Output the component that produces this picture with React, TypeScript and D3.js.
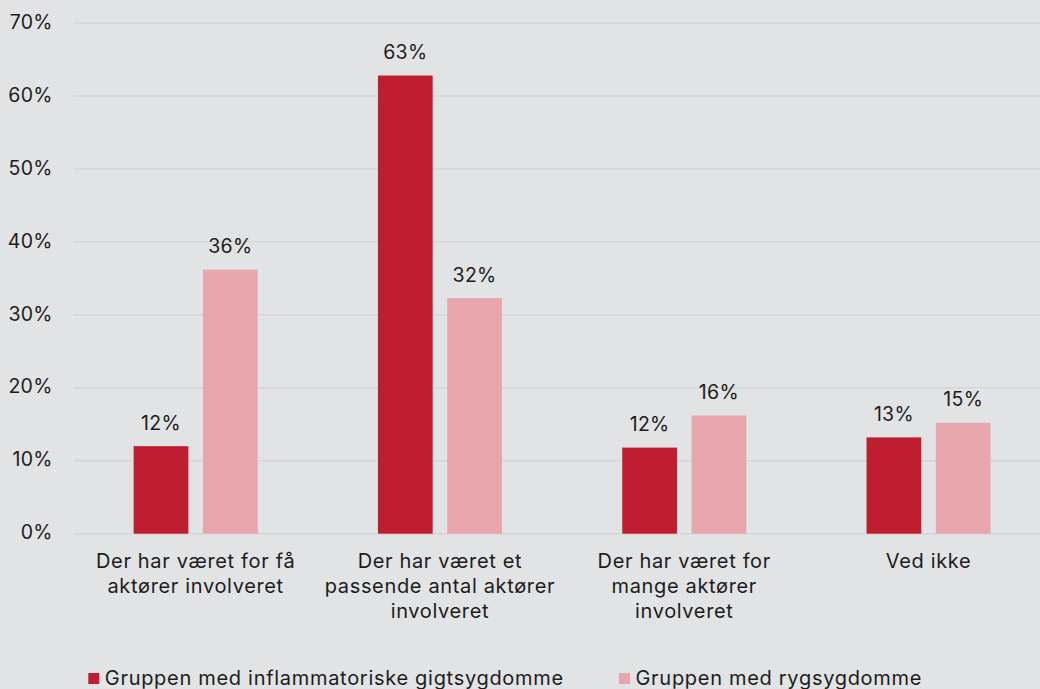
import React from "react";
import * as d3 from "d3";

const categories: string[][] = [
  ["Der har været for få", "aktører involveret"],
  ["Der har været et", "passende antal aktører", "involveret"],
  ["Der har været for", "mange aktører", "involveret"],
  ["Ved ikke"],
];
const seriesNames = ["Gruppen med inflammatoriske gigtsygdomme", "Gruppen med rygsygdomme"];
const seriesA = [12.0, 62.8, 11.8, 13.2];
const seriesB = [36.2, 32.3, 16.2, 15.2];
const labelsA = ["12%", "63%", "12%", "13%"];
const labelsB = ["36%", "32%", "16%", "15%"];
const yTicks = [0, 10, 20, 30, 40, 50, 60, 70];
const colors = ["#be1e30", "#e7a6ab"];

const W = 1040;
const H = 689;
const FONT = "Inter, 'Noto Sans', sans-serif";
const TXT = "#1c1c1c";

export default function App() {
  const y = d3.scaleLinear().domain([0, 70]).range([533.7, 23]);
  const idx = categories.map((_, i) => String(i));
  const x0 = d3
    .scaleBand<string>()
    .domain(idx)
    .range([73.5, 73.5 + 4 * 244.3])
    .paddingInner(0.4924)
    .paddingOuter(0.2462);
  const x1 = d3.scaleBand<string>().domain(["a", "b"]).range([0, x0.bandwidth()]).paddingInner(0.21).paddingOuter(0);
  const series = [
    { key: "a", values: seriesA, labels: labelsA, color: colors[0] },
    { key: "b", values: seriesB, labels: labelsB, color: colors[1] },
  ];
  return (
    <svg
      width={W}
      height={H}
      style={{ position: "absolute", left: 0, top: 0, background: "#e2e3e5" }}
      fontFamily={FONT}
    >
      <rect x={0} y={0} width={W} height={H} fill="#e2e3e5" />
      {yTicks.map((t) => (
        <g key={t}>
          <line x1={73.5} x2={W} y1={y(t)} y2={y(t)} stroke="#d5d6d8" strokeWidth={1.5} />
          <text x={52.5} y={y(t) + 5.7} textAnchor="end" fontSize={19.5} fill={TXT} letterSpacing={0.2}>
            {t}%
          </text>
        </g>
      ))}
      {series.map((s) =>
        s.values.map((v, i) => {
          const bx = (x0(String(i)) as number) + (x1(s.key) as number);
          return (
            <g key={s.key + i}>
              <rect x={bx} y={y(v)} width={x1.bandwidth()} height={y(0) - y(v)} fill={s.color} />
              <text
                x={bx + x1.bandwidth() / 2}
                y={y(v) - 16.4}
                textAnchor="middle"
                fontSize={19.5}
                fill={TXT}
                letterSpacing={0.3}
              >
                {s.labels[i]}
              </text>
            </g>
          );
        })
      )}
      {categories.map((lines, i) => {
        const cx = (x0(String(i)) as number) + x0.bandwidth() / 2;
        return (
          <text key={i} textAnchor="middle" fontSize={20} fill={TXT} letterSpacing={0.65}>
            {lines.map((l, j) => (
              <tspan key={j} x={cx} y={568 + j * 25}>
                {l}
              </tspan>
            ))}
          </text>
        );
      })}
      {seriesNames.map((n, i) => {
        const lx = [88.3, 619][i];
        return (
          <g key={n}>
            <rect x={lx} y={673} width={11} height={11} fill={colors[i]} />
            <text x={lx + 16.5} y={685} fontSize={20} fill={TXT} letterSpacing={0.7}>
              {n}
            </text>
          </g>
        );
      })}
    </svg>
  );
}
